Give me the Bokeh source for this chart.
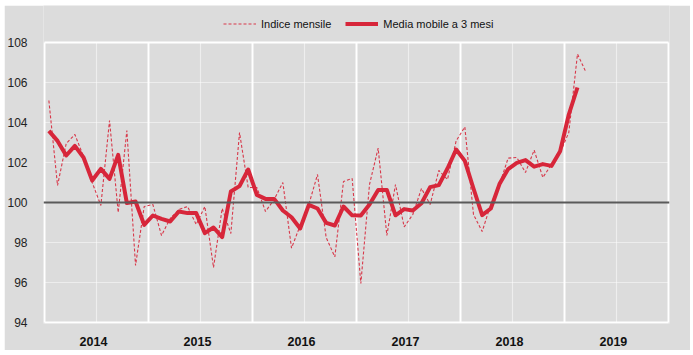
from bokeh.plotting import figure
from bokeh.models import Range1d, FixedTicker, Grid, Span, Legend, LegendItem
from bokeh.embed import file_html
from bokeh.resources import INLINE
import numpy as np

years = ["2014", "2015", "2016", "2017", "2018", "2019"]
y_ticks = [94, 96, 98, 100, 102, 104, 106, 108]

# Monthly index, Jan 2014 - Mar 2019
indice_mensile = [
    105.1, 100.85, 102.95, 103.4, 102.3, 101.0, 99.85, 104.1, 99.5, 103.6, 96.85, 99.8,
    99.9, 98.35, 99.2, 99.65, 99.8, 98.9, 99.8, 96.75, 99.7, 98.45, 103.5, 100.75,
    100.75, 99.55, 100.15, 101.0, 97.72, 98.85, 99.9, 101.4, 98.25, 97.28, 101.05, 101.2,
    95.95, 100.9, 102.72, 98.35, 100.9, 98.78, 99.4, 100.7, 99.9, 101.6, 101.15, 103.08,
    103.78, 99.4, 98.55, 99.9, 100.9, 102.22, 102.25, 101.5, 102.62, 101.25, 101.9, 102.5,
    103.5, 107.42, 106.5,
]

# 3-month moving average, Jan 2014 - Feb 2019
media_mobile = [
    103.58, 103.08, 102.35, 102.83, 102.25, 101.1, 101.68, 101.18, 102.38, 99.97, 100.05, 98.88,
    99.35, 99.18, 99.05, 99.55, 99.47, 99.47, 98.47, 98.75, 98.27, 100.55, 100.82, 101.65,
    100.38, 100.18, 100.18, 99.6, 99.26, 98.7, 99.88, 99.7, 98.98, 98.85, 99.8, 99.36,
    99.35, 99.9, 100.63, 100.63, 99.36, 99.67, 99.6, 99.96, 100.77, 100.87, 101.7, 102.65,
    102.08, 100.7, 99.37, 99.7, 100.92, 101.67, 101.98, 102.12, 101.79, 101.92, 101.83, 102.56,
    104.4, 105.75,
]

RED = "#d7263a"
GREY = "#dcdcdc"
FONT = "'Liberation Sans Narrow', 'Arial Narrow', 'Liberation Sans', sans-serif"

x_idx = np.arange(len(indice_mensile)) + 0.5
x_ma = np.arange(len(media_mobile)) + 0.5

# frame extends above 108 so the legend can sit inside it
p = figure(width=686, height=345, margin=(5, 3, 5, 4),
           x_range=Range1d(-0.12, 72.12), y_range=Range1d(93.95, 109.85),
           output_backend="svg", toolbar_location=None,
           min_border_left=30, min_border_right=21, min_border_top=0, min_border_bottom=27,
           background_fill_color=GREY, border_fill_color=GREY)

p.outline_line_color = None

# grids
p.ygrid.ticker = FixedTicker(ticks=[96, 98, 100, 102, 104, 106])
p.ygrid.grid_line_color = "white"
p.ygrid.grid_line_dash = "1 1"
p.ygrid.grid_line_width = 1.2
p.ygrid.cross_bounds = (0, 72)
p.xgrid.ticker = FixedTicker(ticks=[12 * k for k in range(0, 7)])
p.xgrid.grid_line_color = "white"
p.xgrid.grid_line_width = 2
p.xgrid.cross_bounds = (94, 108)
edges = Grid(dimension=1, ticker=FixedTicker(ticks=[94, 108]), cross_bounds=(0, 72),
             grid_line_color="white", grid_line_width=2)
p.add_layout(edges)
mid = Grid(dimension=0, ticker=FixedTicker(ticks=[12 * k + 6 for k in range(6)]),
           cross_bounds=(94, 108),
           grid_line_color="white", grid_line_dash="1 1", grid_line_width=1.2)
p.add_layout(mid)

p.add_layout(Span(location=100, dimension="width", line_color="#5a5a5a", line_width=2))

r1 = p.line(x_idx, indice_mensile, line_color=RED, line_width=1.1, line_dash="3 2", line_alpha=0.9)
r2 = p.line(x_ma, media_mobile, line_color=RED, line_width=4, line_join="round")

# axes
p.yaxis.ticker = FixedTicker(ticks=y_ticks)
p.yaxis.axis_line_color = None
p.yaxis.major_tick_line_color = None
p.yaxis.minor_tick_line_color = None
p.yaxis.major_label_standoff = 10
p.yaxis.major_label_text_font = FONT
p.yaxis.major_label_text_font_size = "12px"
p.yaxis.major_label_text_color = "#222222"

year_pos = [12 * k + 5.65 for k in range(len(years))]
p.xaxis.ticker = FixedTicker(ticks=year_pos)
p.xaxis.major_label_overrides = {pos: y for pos, y in zip(year_pos, years)}
p.xaxis.axis_line_color = None
p.xaxis.major_tick_line_color = None
p.xaxis.minor_tick_line_color = None
p.xaxis.major_label_standoff = 7
p.xaxis.major_label_text_font = FONT
p.xaxis.major_label_text_font_size = "12.5px"
p.xaxis.major_label_text_font_style = "bold"
p.xaxis.major_label_text_color = "#111111"

legend = Legend(items=[LegendItem(label="Indice mensile", renderers=[r1]),
                       LegendItem(label="Media mobile a 3 mesi", renderers=[r2])],
                orientation="horizontal", location=(180, 291),
                padding=0, margin=0, spacing=14, glyph_width=33, glyph_height=17,
                label_height=17,
                label_standoff=5, label_text_font=FONT, label_text_font_size="11px",
                label_text_color="#111111", border_line_color=None,
                background_fill_alpha=0)
p.add_layout(legend, "center")

open("out.html", "w").write(file_html(p, INLINE))
